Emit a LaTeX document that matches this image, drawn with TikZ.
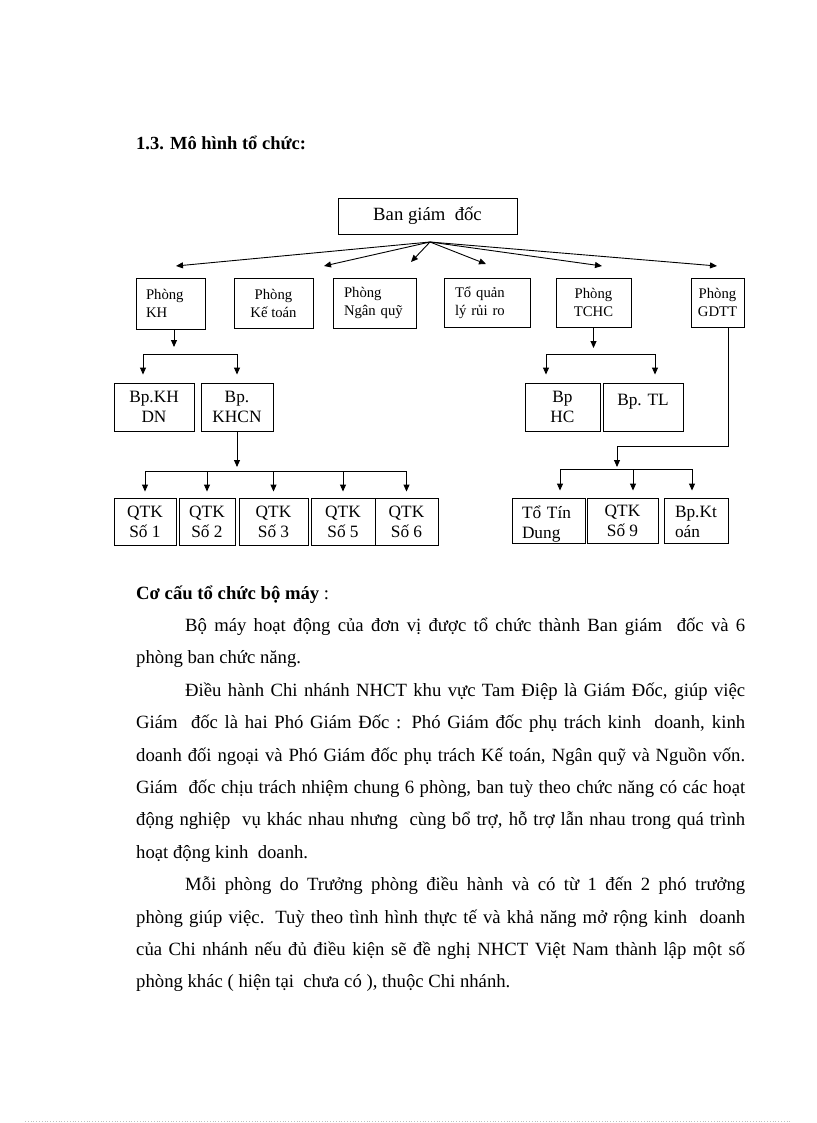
\documentclass[tikz,border=0pt]{standalone}
\usepackage{fontspec}
\setmainfont{Liberation Serif}
\usetikzlibrary{arrows.meta}

\newcommand{\deptfont}{\fontsize{14.7pt}{18pt}\selectfont}
\newcommand{\unitfont}{\fontsize{17.3pt}{20pt}\selectfont}
\newcommand{\headfont}{\fontsize{18.7pt}{22pt}\selectfont}
\newcommand{\bodyfont}{\fontsize{18.7pt}{32.4pt}\selectfont}
\newcommand{\jline}[1]{\makebox[\linewidth][s]{#1}}

\begin{document}
\begin{tikzpicture}[x=1pt, y=-1pt, >={Triangle[length=7pt,width=6pt]}]
    \useasboundingbox (0,0) rectangle (816,1123);

    \node[anchor=base west, inner sep=0pt, font=\bfseries\fontsize{18.5pt}{20pt}\selectfont] (title) at (136,150) {1.3. Mô hình tổ chức:};

    \begin{scope}[every node/.style={draw, rectangle, line width=0.9pt, inner sep=0pt, align=center}]
        \node[font=\headfont, minimum width=179pt, minimum height=36pt] (bgd) at (427.5,216) {Ban giám \ đốc};
        % phong ban %
        \node[font=\deptfont, align=left, text width=49pt, inner xsep=10pt, minimum height=51pt] (kh) at (170.5,303.5) {Phòng\\KH};
        \node[font=\deptfont, minimum width=79pt, minimum height=50pt] (kt) at (273.5,303) {Phòng\\Kế toán};
        \node[font=\deptfont, align=left, text width=61pt, inner xsep=11pt, minimum height=50pt] (nq) at (374.5,303) {Phòng\\Ngân quỹ};
        \node[font=\deptfont, align=left, text width=64pt, inner xsep=11pt, minimum height=49pt] (ql) at (487,302.5) {Tổ quản\\lý rủi ro};
        \node[font=\deptfont, minimum width=75pt, minimum height=49pt] (tchc) at (593.5,302.5) {Phòng\\TCHC};
        \node[font=\deptfont, minimum width=53pt, minimum height=49pt] (gdtt) at (717.5,302.5) {Phòng\\GDTT};
        % bo phan %
        \node[font=\unitfont, minimum width=80pt, minimum height=48pt] (dn) at (154,407) {Bp.KH\\DN};
        \node[font=\unitfont, minimum width=72pt, minimum height=48pt] (khcn) at (237,407) {Bp.\\KHCN};
        \node[font=\unitfont, minimum width=75pt, minimum height=48pt] (hc) at (562.5,407) {Bp\\HC};
        \node[font=\unitfont, minimum width=80pt, minimum height=48pt, text height=12pt, text depth=16pt] (tl) at (643,407) {Bp. TL};
        % quy tiet kiem %
        \node[font=\unitfont, minimum width=62pt, minimum height=47pt] (q1) at (145,521.5) {QTK\\Số 1};
        \node[font=\unitfont, minimum width=56pt, minimum height=47pt] (q2) at (207,521.5) {QTK\\Số 2};
        \node[font=\unitfont, minimum width=69pt, minimum height=47pt] (q3) at (273.5,521.5) {QTK\\Số 3};
        \node[font=\unitfont, minimum width=64pt, minimum height=47pt] (q5) at (343,521.5) {QTK\\Số 5};
        \node[font=\unitfont, minimum width=63pt, minimum height=47pt] (q6) at (406.5,521.5) {QTK\\Số 6};
        \node[font=\unitfont, align=left, text width=53pt, inner xsep=10pt, minimum height=45pt, text depth=16pt] (ttd) at (548.5,520.5) {Tổ Tín\\Dung};
        \node[font=\unitfont, minimum width=71pt, minimum height=45pt] (q9) at (622.5,520.5) {QTK\\Số 9};
        \node[font=\unitfont, align=left, text width=42pt, inner xsep=11pt, minimum height=45pt, text depth=18pt] (kto) at (696,520.5) {Bp.Kt\\oán};
    \end{scope}

    \begin{scope}[line width=0.9pt]
        % Ban giam doc toi cac phong %
        \coordinate (hub) at (430,242);
        \foreach \n/\x/\y in {kh/176/266, kt/324/266, nq/411/262, ql/486/264, tchc/602/266, gdtt/717/266}{
            \coordinate (to\n) at (\x,\y);
            \draw[->] (hub) -- (to\n);
        }
        % Phong KH %
        \coordinate (khdrop) at (174,347);
        \coordinate (khL) at (143,354);
        \coordinate (khR) at (237,354);
        \draw[->] (khdrop |- kh.south) -- (khdrop);
        \draw (khL) -- (khR);
        \draw[->, shorten >=8pt] (khL) -- (khL |- dn.north);
        \draw[->, shorten >=8pt] (khR) -- (khcn.north);
        % Phong TCHC %
        \coordinate (tcdrop) at (593.5,348);
        \coordinate (tcL) at (546,354);
        \coordinate (tcR) at (655,354);
        \draw[->] (tchc.south) -- (tcdrop);
        \draw (tcL) -- (tcR);
        \draw[->, shorten >=8pt] (tcL) -- (tcL |- hc.north);
        \draw[->, shorten >=8pt] (tcR) -- (tcR |- tl.north);
        % Bp. KHCN %
        \coordinate (qdrop) at (237,467);
        \coordinate (qbar) at (0,471);
        \draw[->] (khcn.south) -- (qdrop);
        \draw (qbar -| q1.north) -- (qbar -| q6.north);
        \foreach \q in {q1,q2,q3,q5,q6}
            \draw[->, shorten >=6pt] (qbar -| \q.north) -- (\q.north);
        % Phong GDTT %
        \coordinate (gdbend) at (728,446);
        \coordinate (gddrop) at (617,467);
        \coordinate (rL) at (560,469);
        \coordinate (rM) at (633,469);
        \coordinate (rR) at (692,469);
        \draw[->] (gdbend |- gdtt.south) -- (gdbend) -| (gddrop);
        \draw (rL) -- (rR);
        \draw[->, shorten >=7pt] (rL) -- (rL |- ttd.north);
        \draw[->, shorten >=7pt] (rM) -- (rM |- q9.north);
        \draw[->, shorten >=7pt] (rR) -- (rR |- kto.north);
    \end{scope}

    \node[anchor=base west, inner sep=0pt, font=\bodyfont] (body) at (136,599) {%
        \begin{minipage}[t]{609pt}
        \textbf{Cơ cấu tổ chức bộ máy} :\\
        \jline{\hspace*{49pt}Bộ máy hoạt động của đơn vị được tổ chức thành Ban giám \ đốc và 6}\\
        phòng ban chức năng.\\
        \jline{\hspace*{49pt}Điều hành Chi nhánh NHCT khu vực Tam Điệp là Giám Đốc, giúp việc}\\
        \jline{Giám \ đốc là hai Phó Giám Đốc : Phó Giám đốc phụ trách kinh \ doanh, kinh}\\
        \jline{doanh đối ngoại và Phó Giám đốc phụ trách Kế toán, Ngân quỹ và Nguồn vốn.}\\
        \jline{Giám \ đốc chịu trách nhiệm chung 6 phòng, ban tuỳ theo chức năng có các hoạt}\\
        \jline{động nghiệp \ vụ khác nhau nhưng \ cùng bổ trợ, hỗ trợ lẫn nhau trong quá trình}\\
        hoạt động kinh \ doanh.\\
        \jline{\hspace*{49pt}Mỗi phòng do Trưởng phòng điều hành và có từ 1 đến 2 phó trưởng}\\
        \jline{phòng giúp việc. Tuỳ theo tình hình thực tế và khả năng mở rộng kinh \ doanh}\\
        \jline{của Chi nhánh nếu đủ điều kiện sẽ đề nghị NHCT Việt Nam thành lập một số}\\
        phòng khác ( hiện tại \ chưa có ), thuộc Chi nhánh.
        \end{minipage}};

    \draw[black!25, dotted, line width=0.8pt] (25,1121) -- (791,1121);

\end{tikzpicture}
\end{document}
